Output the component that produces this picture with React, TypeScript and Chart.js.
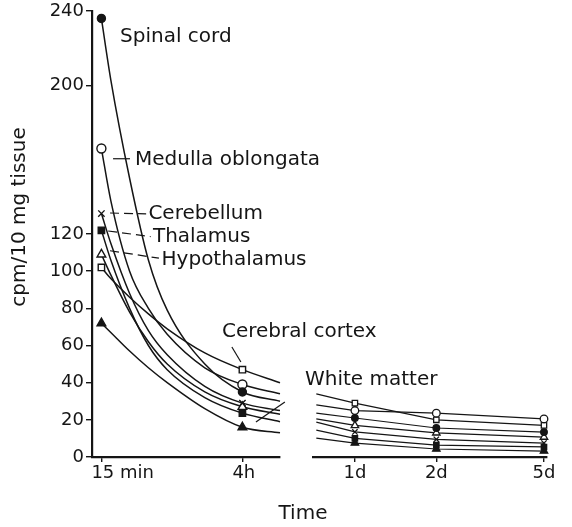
import React, { useEffect, useRef } from 'react';
import { Chart, registerables } from 'chart.js';

Chart.register(...registerables);

// ---------- data ----------
const seriesNames = [
  'Spinal cord',
  'Medulla oblongata',
  'Cerebellum',
  'Thalamus',
  'Hypothalamus',
  'Cerebral cortex',
  'White matter',
];

// early period (hours)
const earlyHours = [0.25, 0.5, 1, 1.5, 2, 3, 4, 5];
const earlyTickHours = [0.25, 4];
const earlyTickLabels = ['15 min', '4h'];

const spinalEarly = [236, 203, 150, 106, 79, 50, 35, 30];
const medullaEarly = [166, 138, 100, 80, 66, 48, 39, 34];
const cerebellumEarly = [131, 115, 88, 68, 55, 38, 29, 25];
const thalamusEarly = [122, 106, 80, 60, 47, 32, 23.6, 19];
const hypothalamusEarly = [109, 98, 78, 62, 50, 35, 27, 23];
const cortexEarly = [102, 96, 86, 77, 69, 56, 47, 40];
const whiteEarly = [72, 67, 57, 48, 40, 26, 16, 13];

// late period (days)
const lateDays = [0.72, 1, 2, 5];
const lateTickDays = [1, 2, 5];
const lateTickLabels = ['1d', '2d', '5d'];

const spinalLate = [23.6, 21, 15.6, 13.4];
const medullaLate = [28, 25, 23.6, 20.5];
const cerebellumLate = [18.8, 13.5, 9.5, 7.5];
const thalamusLate = [14.5, 10, 6.4, 5.4];
const hypothalamusLate = [20.5, 17, 13, 10.7];
const cortexLate = [34, 29, 20, 17];
const whiteLate = [10.2, 7.5, 4.3, 3.2];

const yTicks = [0, 20, 40, 60, 80, 100, 120, 200, 240];
const yTitle = 'cpm/10 mg tissue';
const xTitle = 'Time';

// label anchors (data units of the early panel: hours, cpm)
const labelHours = [0.745, 1.144, 1.5, 1.62, 1.85, 3.457, 5.665];
const labelValues = [226, 160, 131, 118.4, 106, 67.3, 41.4];

// leader lines [h1, v1, h2, v2, dashed]
const leaders: [number, number, number, number, boolean][] = [
  [0.56, 160.5, 1.01, 160.5, false],
  [0.48, 131.3, 1.44, 130.8, true],
  [0.43, 121.6, 1.56, 118.6, true],
  [0.48, 111, 1.78, 107, true],
  [3.72, 59.2, 3.96, 51.1, false],
  [5.13, 29.6, 4.36, 18.8, false],
];

// ---------- styles ----------
const INK = '#151515';
const FAMILY = '"DejaVu Sans", sans-serif';

const markers = [
  { style: 'circle', filled: true, r: 4 },
  { style: 'circle', filled: false, r: 4.5 },
  { style: 'crossRot', filled: false, r: 4.5 },
  { style: 'rect', filled: true, r: 4.5 },
  { style: 'triangle', filled: false, r: 5 },
  { style: 'rect', filled: false, r: 4.5 },
  { style: 'triangle', filled: true, r: 5 },
];

const earlySeries = [spinalEarly, medullaEarly, cerebellumEarly, thalamusEarly, hypothalamusEarly, cortexEarly, whiteEarly];
const lateSeries = [spinalLate, medullaLate, cerebellumLate, thalamusLate, hypothalamusLate, cortexLate, whiteLate];

const tickFont = { family: FAMILY, size: 18, lineHeight: 1 };

const labelPlugin = {
  id: 'panelLabels',
  afterDraw(chart: any) {
    const { ctx, chartArea } = chart;
    const xs = chart.scales.x;
    const ys = chart.scales.y;
    ctx.save();
    ctx.fillStyle = INK;
    ctx.strokeStyle = INK;
    ctx.font = `20px ${FAMILY}`;
    ctx.textAlign = 'left';
    ctx.textBaseline = 'middle';
    seriesNames.forEach((name, i) => {
      ctx.fillText(name, xs.getPixelForValue(labelHours[i]), ys.getPixelForValue(labelValues[i]));
    });
    ctx.lineWidth = 1.2;
    leaders.forEach(([h1, v1, h2, v2, dashed]) => {
      ctx.setLineDash(dashed ? [9, 5] : []);
      ctx.beginPath();
      ctx.moveTo(xs.getPixelForValue(h1), ys.getPixelForValue(v1));
      ctx.lineTo(xs.getPixelForValue(h2), ys.getPixelForValue(v2));
      ctx.stroke();
    });
    ctx.setLineDash([]);
    // y axis title
    ctx.translate(20, (chartArea.top + chartArea.bottom) / 2 - 17);
    ctx.rotate(-Math.PI / 2);
    ctx.textAlign = 'center';
    ctx.font = `20px ${FAMILY}`;
    ctx.fillText(yTitle, 0, 0);
    ctx.restore();
  },
};

function axisStyle(tickLength: number) {
  return {
    grid: { display: true, drawOnChartArea: false, drawTicks: true, tickLength, color: INK, lineWidth: 1.4 },
    border: { display: true, color: INK, width: 2.2 },
  };
}

export default function App() {
  const leftRef = useRef<HTMLCanvasElement>(null);
  const rightRef = useRef<HTMLCanvasElement>(null);

  useEffect(() => {
    const left = new Chart(leftRef.current as HTMLCanvasElement, {
      type: 'line',
      data: {
        datasets: seriesNames.map((name, i) => ({
          label: name,
          data: earlyHours.map((h, j) => ({ x: h, y: earlySeries[i][j] })),
          borderColor: INK,
          borderWidth: 1.5,
          cubicInterpolationMode: 'monotone',
          fill: false,
          pointStyle: markers[i].style,
          pointRadius: earlyHours.map((h) => (earlyTickHours.includes(h) ? markers[i].r : 0)),
          pointBackgroundColor: markers[i].filled ? INK : '#fff',
          pointBorderColor: INK,
          pointBorderWidth: 1.4,
          clip: false,
        })) as any,
      },
      options: {
        responsive: false,
        animation: false,
        events: [],
        layout: { padding: { left: 0, right: 292, top: 11, bottom: 0 } },
        plugins: { legend: { display: false }, tooltip: { enabled: false } },
        scales: {
          x: {
            type: 'linear',
            min: 0,
            max: 5,
            afterBuildTicks: (s: any) => {
              s.ticks = earlyTickHours.map((v) => ({ value: v }));
            },
            afterFit: (s: any) => {
              s.height = 70;
            },
            ticks: {
              autoSkip: false,
              maxRotation: 0,
              minRotation: 0,
              align: 'start',
              labelOffset: -10,
              padding: 2,
              color: INK,
              font: tickFont,
              callback: (v: any) => earlyTickLabels[earlyTickHours.indexOf(Number(v))] ?? '',
            },
            ...axisStyle(5),
          },
          y: {
            type: 'linear',
            min: 0,
            max: 240,
            afterBuildTicks: (s: any) => {
              s.ticks = yTicks.map((v) => ({ value: v }));
            },
            afterFit: (s: any) => {
              s.width = 92;
            },
            ticks: { autoSkip: false, padding: 2, color: INK, font: tickFont },
            ...axisStyle(6),
          },
        } as any,
      },
      plugins: [labelPlugin],
    });

    const right = new Chart(rightRef.current as HTMLCanvasElement, {
      type: 'line',
      data: {
        datasets: seriesNames.map((name, i) => ({
          label: name,
          data: lateDays.map((d, j) => ({ x: d, y: lateSeries[i][j] })),
          borderColor: INK,
          borderWidth: 1.2,
          tension: 0,
          fill: false,
          pointStyle: markers[i].style,
          pointRadius: lateDays.map((d) => (lateTickDays.includes(d) ? markers[i].r - 0.7 : 0)),
          pointBackgroundColor: markers[i].filled ? INK : '#fff',
          pointBorderColor: INK,
          pointBorderWidth: 1.3,
          clip: false,
        })) as any,
      },
      options: {
        responsive: false,
        animation: false,
        events: [],
        layout: { padding: { left: 13, right: 25, top: 11, bottom: 0 } },
        plugins: { legend: { display: false }, tooltip: { enabled: false } },
        scales: {
          x: {
            type: 'logarithmic',
            min: 0.7,
            max: 5.13,
            afterBuildTicks: (s: any) => {
              s.ticks = lateTickDays.map((v) => ({ value: v }));
            },
            afterFit: (s: any) => {
              s.height = 70;
            },
            ticks: {
              autoSkip: false,
              maxRotation: 0,
              minRotation: 0,
              padding: 2,
              color: INK,
              font: tickFont,
              callback: (v: any) => lateTickLabels[lateTickDays.indexOf(Number(v))] ?? '',
            },
            ...axisStyle(5),
          },
          y: { type: 'linear', display: false, min: 0, max: 240 },
        } as any,
      },
    });

    return () => {
      left.destroy();
      right.destroy();
    };
  }, []);

  return (
    <div style={{ position: 'absolute', left: 0, top: 0, width: 572, height: 527, background: '#fff', overflow: 'hidden' }}>
      <canvas ref={leftRef} width={572} height={527} style={{ position: 'absolute', left: 0, top: 0 }} />
      <canvas ref={rightRef} width={272} height={527} style={{ position: 'absolute', left: 300, top: 0 }} />
      <div
        style={{
          position: 'absolute',
          left: 253,
          top: 500,
          width: 100,
          textAlign: 'center',
          font: `20px ${FAMILY}`,
          lineHeight: '24px',
          color: INK,
        }}
      >
        {xTitle}
      </div>
    </div>
  );
}
